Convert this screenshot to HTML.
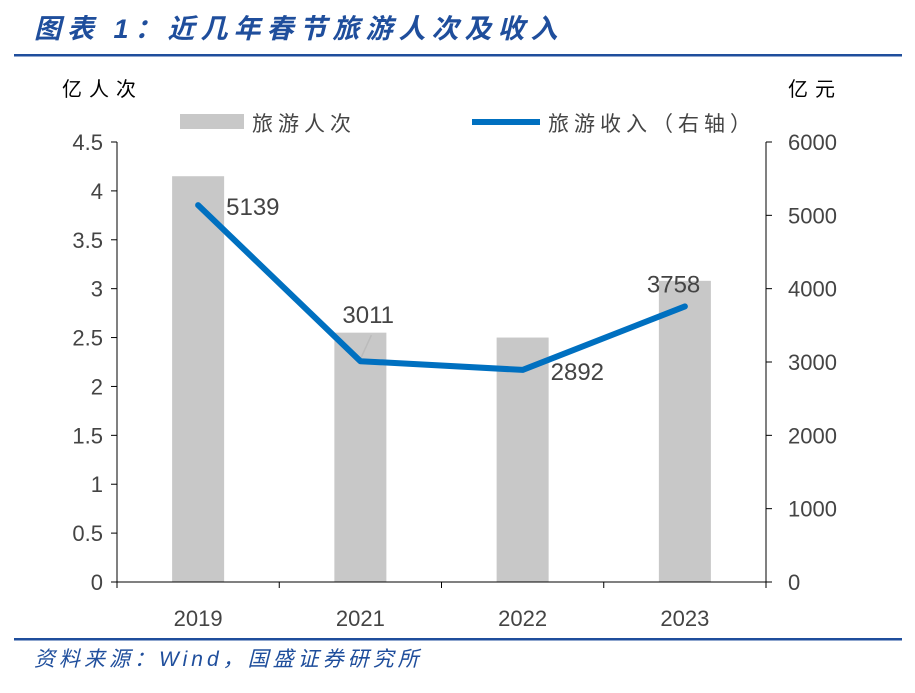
<!DOCTYPE html>
<html><head><meta charset="utf-8"><style>
body{margin:0;background:#fff;width:915px;height:688px;overflow:hidden;font-family:"Liberation Sans","Noto Sans CJK SC",sans-serif;}
</style></head><body>
<svg id="c" width="915" height="688" xmlns="http://www.w3.org/2000/svg">
<text x="34" y="38" font-size="27" letter-spacing="6" font-weight="bold" font-style="italic" fill="#1f4e9c" font-family="Liberation Sans,Noto Sans CJK SC,sans-serif">图表 1：近几年春节旅游人次及收入</text>
<rect x="14" y="54" width="888" height="2.5" fill="#1f4e9c"/>
<text x="62" y="96" font-size="20" letter-spacing="7" fill="#000">亿人次</text>
<text x="788" y="96" font-size="20" letter-spacing="7" fill="#000">亿元</text>
<rect x="180" y="114" width="64" height="15" fill="#c8c8c8"/>
<text x="252" y="131" font-size="21" letter-spacing="5" fill="#444">旅游人次</text>
<line x1="472" y1="122" x2="540" y2="122" stroke="#0070c0" stroke-width="6"/>
<text x="548" y="131" font-size="21" letter-spacing="5" fill="#444">旅游收入（右轴）</text>
<g id="plot"></g>
<rect x="14" y="638" width="888" height="2.5" fill="#1f4e9c"/>
<text x="34" y="666" font-size="21" letter-spacing="4" font-style="italic" fill="#1f4e9c">资料来源：Wind，国盛证券研究所</text>
</svg>
<script>
const categories=["2019","2021","2022","2023"];
const visitors=[4.15,2.55,2.5,3.08];
const revenue=[5139,3011,2892,3758];
const leftTicks=["0","0.5","1","1.5","2","2.5","3","3.5","4","4.5"];
const rightTicks=["0","1000","2000","3000","4000","5000","6000"];
const NS="http://www.w3.org/2000/svg";
const g=document.getElementById('plot');
const X0=117,X1=766,Y0=582,Y1=142;
const yL=v=>Y0-(v/4.5)*(Y0-Y1);
const yR=v=>Y0-(v/6000)*(Y0-Y1);
const band=(X1-X0)/categories.length;
const xC=i=>X0+band*(i+0.5);
function mk(t,a){const e=document.createElementNS(NS,t);for(const k in a)e.setAttribute(k,a[k]);g.appendChild(e);return e;}
visitors.forEach((v,i)=>{const r=mk('rect',{x:xC(i)-26,y:yL(v),width:52,height:Y0-yL(v),fill:'#c8c8c8'});

});
let a=mk('line',{x1:X0,y1:Y1,x2:X0,y2:Y0,stroke:'#000','stroke-width':1});


a=mk('line',{x1:X1,y1:Y1,x2:X1,y2:Y0,stroke:'#000','stroke-width':1});


a=mk('line',{x1:X0,y1:Y0,x2:X1,y2:Y0,stroke:'#000','stroke-width':1});


leftTicks.forEach(t=>{const y=yL(+t);mk('line',{x1:X0-6,y1:y,x2:X0,y2:y,stroke:'#000'});
const e=mk('text',{x:X0-14,y:y+8,'font-size':22,fill:'#444','text-anchor':'end'});e.textContent=t;

});
rightTicks.forEach(t=>{const y=yR(+t);mk('line',{x1:X1,y1:y,x2:X1+6,y2:y,stroke:'#000'});
const e=mk('text',{x:X1+22,y:y+8,'font-size':22,fill:'#444'});e.textContent=t;

});
for(let i=0;i<=categories.length;i++){const x=X0+band*i;mk('line',{x1:x,y1:Y0,x2:x,y2:Y0+6,stroke:'#000'});}
categories.forEach((c,i)=>{const e=mk('text',{x:xC(i),y:626,'font-size':22,fill:'#444','text-anchor':'middle'});e.textContent=c;

});
const ld=mk('line',{x1:xC(1),y1:yR(revenue[1])-2,x2:xC(1)+11,y2:yR(revenue[1])-26,stroke:'#bbb','stroke-width':1.5});


const pts=revenue.map((v,i)=>xC(i)+','+yR(v)).join(' ');
const l=mk('polyline',{points:pts,fill:'none',stroke:'#0070c0','stroke-width':6,'stroke-linecap':'round','stroke-linejoin':'round'});


const off=[[28,10],[-18,-38],[28,10],[-38,-14]];
revenue.forEach((v,i)=>{const e=mk('text',{x:xC(i)+off[i][0],y:yR(v)+off[i][1],'font-size':24,fill:'#444'});e.textContent=v;

});
</script>
</body></html>
